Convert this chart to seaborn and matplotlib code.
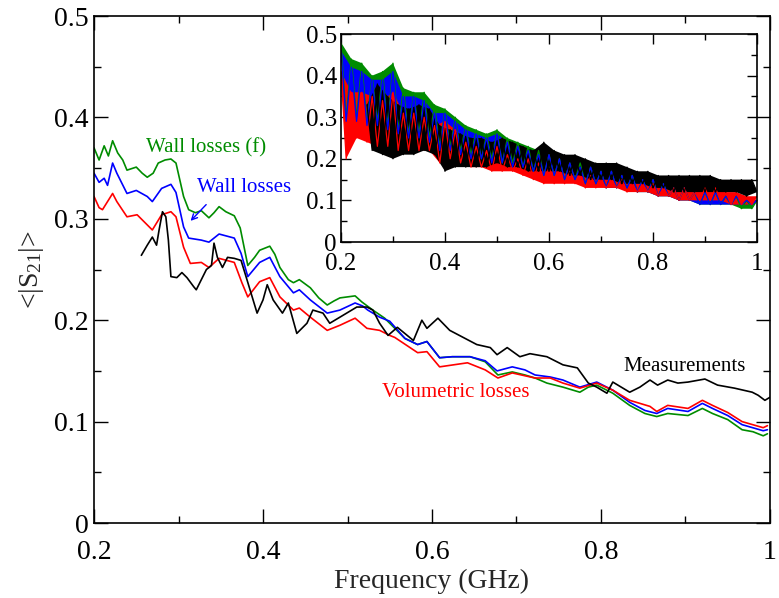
import numpy as np
import pandas as pd
import matplotlib
matplotlib.use("Agg")
import matplotlib.pyplot as plt
from matplotlib.ticker import MultipleLocator
import seaborn as sns

# ---- main panel: smoothed <|S21|> curves ----
wallf_freq = [0.200, 0.206, 0.212, 0.217, 0.222, 0.228, 0.234, 0.239, 0.250, 0.257, 0.263, 0.270,
              0.276, 0.284, 0.291, 0.297, 0.306, 0.312, 0.320, 0.327, 0.336, 0.342, 0.348, 0.356,
              0.366, 0.373, 0.382, 0.390, 0.396, 0.408, 0.414, 0.420, 0.430, 0.436, 0.443, 0.456,
              0.466, 0.476, 0.484, 0.491, 0.500, 0.509, 0.517, 0.530, 0.544, 0.556, 0.568, 0.583,
              0.594, 0.609, 0.624, 0.645, 0.663, 0.678, 0.695, 0.710, 0.722, 0.736, 0.755, 0.775,
              0.785, 0.795, 0.814, 0.834, 0.852, 0.866, 0.879, 0.903, 0.920, 0.932, 0.950, 0.967,
              0.980, 0.992, 0.997]
wallf_s21 = [0.370, 0.358, 0.372, 0.362, 0.377, 0.365, 0.358, 0.348, 0.351, 0.345, 0.341, 0.345,
             0.355, 0.358, 0.359, 0.355, 0.322, 0.309, 0.306, 0.308, 0.301, 0.306, 0.312, 0.307,
             0.303, 0.291, 0.254, 0.262, 0.269, 0.273, 0.265, 0.252, 0.240, 0.237, 0.240, 0.232,
             0.222, 0.215, 0.219, 0.222, 0.223, 0.224, 0.218, 0.210, 0.202, 0.192, 0.182, 0.176,
             0.179, 0.163, 0.164, 0.164, 0.159, 0.146, 0.149, 0.146, 0.143, 0.138, 0.134, 0.129,
             0.134, 0.136, 0.128, 0.116, 0.108, 0.105, 0.108, 0.106, 0.113, 0.108, 0.102, 0.092,
             0.090, 0.086, 0.088]

wall_freq = [0.200, 0.206, 0.212, 0.216, 0.222, 0.227, 0.239, 0.250, 0.263, 0.269, 0.280, 0.291,
             0.297, 0.306, 0.312, 0.327, 0.336, 0.348, 0.366, 0.374, 0.382, 0.396, 0.408, 0.420,
             0.436, 0.443, 0.456, 0.476, 0.491, 0.509, 0.518, 0.524, 0.538, 0.550, 0.568, 0.583,
             0.594, 0.609, 0.624, 0.645, 0.663, 0.677, 0.695, 0.710, 0.722, 0.740, 0.755, 0.775,
             0.795, 0.814, 0.834, 0.852, 0.866, 0.879, 0.903, 0.920, 0.932, 0.950, 0.967, 0.992,
             0.997]
wall_s21 = [0.345, 0.336, 0.340, 0.333, 0.355, 0.345, 0.325, 0.328, 0.322, 0.317, 0.330, 0.334,
            0.326, 0.292, 0.281, 0.279, 0.277, 0.285, 0.281, 0.266, 0.243, 0.257, 0.262, 0.243,
            0.227, 0.230, 0.220, 0.207, 0.210, 0.217, 0.214, 0.210, 0.203, 0.199, 0.182, 0.176,
            0.179, 0.163, 0.164, 0.164, 0.160, 0.150, 0.154, 0.151, 0.146, 0.144, 0.141, 0.134,
            0.139, 0.131, 0.119, 0.111, 0.108, 0.113, 0.110, 0.118, 0.113, 0.106, 0.097, 0.091,
            0.092]

vol_freq = [0.200, 0.206, 0.210, 0.222, 0.227, 0.239, 0.251, 0.263, 0.269, 0.280, 0.291, 0.297,
            0.306, 0.314, 0.327, 0.336, 0.348, 0.366, 0.375, 0.382, 0.396, 0.408, 0.420, 0.436,
            0.443, 0.456, 0.476, 0.491, 0.509, 0.523, 0.538, 0.550, 0.556, 0.583, 0.594, 0.609,
            0.642, 0.663, 0.678, 0.695, 0.722, 0.740, 0.755, 0.775, 0.795, 0.814, 0.834, 0.858,
            0.866, 0.879, 0.903, 0.920, 0.932, 0.950, 0.967, 0.992, 0.997]
vol_s21 = [0.322, 0.311, 0.309, 0.325, 0.317, 0.302, 0.304, 0.294, 0.289, 0.304, 0.307, 0.302,
           0.272, 0.256, 0.257, 0.252, 0.261, 0.257, 0.237, 0.223, 0.238, 0.242, 0.223, 0.210,
           0.212, 0.203, 0.190, 0.195, 0.202, 0.192, 0.190, 0.185, 0.183, 0.168, 0.169, 0.154,
           0.158, 0.151, 0.143, 0.148, 0.143, 0.143, 0.138, 0.133, 0.138, 0.131, 0.121, 0.115,
           0.110, 0.116, 0.113, 0.121, 0.116, 0.109, 0.100, 0.094, 0.096]

meas_freq = [0.256, 0.263, 0.269, 0.274, 0.277, 0.281, 0.285, 0.288, 0.291, 0.298, 0.304, 0.310,
             0.318, 0.321, 0.327, 0.333, 0.339, 0.342, 0.346, 0.352, 0.358, 0.366, 0.374, 0.381,
             0.393, 0.400, 0.405, 0.412, 0.423, 0.430, 0.440, 0.452, 0.459, 0.471, 0.479, 0.491,
             0.511, 0.523, 0.530, 0.538, 0.548, 0.559, 0.578, 0.588, 0.594, 0.607, 0.621, 0.637,
             0.653, 0.669, 0.677, 0.689, 0.704, 0.716, 0.736, 0.755, 0.772, 0.785, 0.795, 0.807,
             0.814, 0.834, 0.846, 0.858, 0.867, 0.879, 0.891, 0.903, 0.923, 0.938, 0.958, 0.979,
             0.986, 0.994, 1.000]
meas_s21 = [0.264, 0.274, 0.282, 0.274, 0.289, 0.307, 0.302, 0.279, 0.243, 0.242, 0.247, 0.242,
            0.233, 0.230, 0.240, 0.250, 0.254, 0.276, 0.262, 0.252, 0.262, 0.261, 0.259, 0.240,
            0.207, 0.220, 0.235, 0.220, 0.207, 0.217, 0.187, 0.197, 0.210, 0.207, 0.197, 0.203,
            0.213, 0.213, 0.210, 0.197, 0.185, 0.193, 0.180, 0.200, 0.192, 0.202, 0.190, 0.183,
            0.176, 0.173, 0.166, 0.173, 0.164, 0.167, 0.164, 0.156, 0.153, 0.138, 0.134, 0.128,
            0.139, 0.129, 0.134, 0.141, 0.136, 0.141, 0.138, 0.139, 0.142, 0.136, 0.133, 0.129,
            0.126, 0.121, 0.124]

# ---- inset: raw spectra, read as peak / trough values of the noise ----
sim_peak_freq = np.round(np.arange(0.20, 1.0001, 0.02), 2)     # 41 points
sim_trough_freq = np.round(np.arange(0.21, 0.9901, 0.02), 2)   # 40 points
meas_peak_freq = np.round(np.arange(0.25, 0.9901, 0.02), 2)    # 38 points
meas_trough_freq = np.round(np.arange(0.26, 1.0001, 0.02), 2)  # 38 points

wallf_peak = [0.48, 0.44, 0.43, 0.40, 0.41, 0.43, 0.37, 0.36, 0.36, 0.33,
              0.32, 0.30, 0.28, 0.27, 0.26, 0.27, 0.25, 0.24, 0.23, 0.22,
              0.21, 0.20, 0.19, 0.19, 0.18, 0.17, 0.17, 0.16, 0.16, 0.15,
              0.15, 0.14, 0.13, 0.13, 0.12, 0.12, 0.12, 0.11, 0.11, 0.10, 0.10]
wallf_trough = [0.30, 0.30, 0.29, 0.29, 0.28, 0.27, 0.26, 0.26, 0.25, 0.23,
                0.23, 0.22, 0.21, 0.20, 0.20, 0.19, 0.19, 0.18, 0.17, 0.16,
                0.16, 0.15, 0.15, 0.14, 0.14, 0.13, 0.13, 0.13, 0.12, 0.12,
                0.11, 0.11, 0.10, 0.10, 0.09, 0.09, 0.09, 0.09, 0.08, 0.08]
wall_peak = [0.46, 0.42, 0.41, 0.39, 0.39, 0.41, 0.35, 0.35, 0.34, 0.31,
             0.31, 0.29, 0.27, 0.26, 0.25, 0.26, 0.24, 0.23, 0.22, 0.21,
             0.21, 0.20, 0.19, 0.18, 0.18, 0.17, 0.17, 0.16, 0.16, 0.15,
             0.15, 0.14, 0.13, 0.13, 0.12, 0.12, 0.12, 0.11, 0.11, 0.10, 0.10]
wall_trough = [0.29, 0.29, 0.28, 0.28, 0.27, 0.26, 0.25, 0.25, 0.24, 0.22,
               0.22, 0.21, 0.20, 0.20, 0.19, 0.19, 0.18, 0.18, 0.17, 0.16,
               0.16, 0.15, 0.15, 0.14, 0.14, 0.13, 0.13, 0.13, 0.12, 0.12,
               0.11, 0.11, 0.10, 0.10, 0.09, 0.09, 0.09, 0.09, 0.09, 0.09]
vol_peak = [0.41, 0.36, 0.36, 0.35, 0.34, 0.36, 0.31, 0.31, 0.30, 0.28,
            0.29, 0.27, 0.24, 0.23, 0.22, 0.23, 0.21, 0.20, 0.20, 0.19,
            0.18, 0.17, 0.17, 0.16, 0.16, 0.15, 0.15, 0.15, 0.14, 0.14,
            0.14, 0.13, 0.13, 0.13, 0.12, 0.13, 0.13, 0.12, 0.12, 0.11, 0.11]
vol_trough = [0.20, 0.25, 0.24, 0.23, 0.23, 0.22, 0.22, 0.22, 0.22, 0.19,
              0.20, 0.19, 0.18, 0.18, 0.17, 0.17, 0.17, 0.16, 0.15, 0.14,
              0.14, 0.14, 0.14, 0.13, 0.13, 0.13, 0.13, 0.12, 0.12, 0.12,
              0.11, 0.11, 0.10, 0.10, 0.10, 0.10, 0.10, 0.09, 0.09, 0.09]
meas_peak = [0.33, 0.38, 0.35, 0.33, 0.32, 0.33, 0.32, 0.28, 0.27, 0.26,
             0.25, 0.25, 0.24, 0.25, 0.24, 0.23, 0.22, 0.24, 0.22, 0.21,
             0.21, 0.20, 0.19, 0.19, 0.19, 0.18, 0.17, 0.17, 0.16, 0.16,
             0.16, 0.16, 0.16, 0.16, 0.15, 0.15, 0.15, 0.15]
meas_trough = [0.22, 0.21, 0.20, 0.21, 0.21, 0.22, 0.21, 0.17, 0.18, 0.18,
               0.18, 0.18, 0.19, 0.18, 0.18, 0.17, 0.17, 0.17, 0.17, 0.16,
               0.16, 0.15, 0.15, 0.15, 0.14, 0.14, 0.14, 0.13, 0.13, 0.12,
               0.12, 0.12, 0.12, 0.12, 0.12, 0.12, 0.11, 0.12]

GREEN, BLUE, RED, BLACK = "#008c00", "#0000ff", "#ff0000", "#000000"

sns.set_style("ticks")
plt.rcParams["font.family"] = ["Liberation Serif", "DejaVu Serif"]
plt.rcParams["mathtext.fontset"] = "custom"
plt.rcParams["mathtext.rm"] = "Liberation Serif"
plt.rcParams["mathtext.it"] = "Liberation Serif:italic"

fig = plt.figure(figsize=(7.79, 5.98), dpi=100)
ax = fig.add_axes([0.1207, 0.1254, 0.8677, 0.8478])

for fr, s, c in [(wallf_freq, wallf_s21, GREEN), (wall_freq, wall_s21, BLUE),
                 (vol_freq, vol_s21, RED), (meas_freq, meas_s21, BLACK)]:
    sns.lineplot(x=fr, y=s, color=c, lw=1.2, estimator=None, sort=False, ax=ax)


def style_axes(a, size, major_len, minor_len, xpad, ypad):
    a.set_xlim(0.2, 1.0)
    a.set_ylim(0, 0.5)
    a.xaxis.set_major_locator(MultipleLocator(0.2))
    a.xaxis.set_minor_locator(MultipleLocator(0.1))
    a.yaxis.set_major_locator(MultipleLocator(0.1))
    a.yaxis.set_minor_locator(MultipleLocator(0.05))
    a.set_xticklabels([f"{v:g}" for v in a.get_xticks()])
    a.set_yticklabels([f"{v:g}" for v in a.get_yticks()])
    a.tick_params(which="both", direction="in", top=True, right=True, width=1.0,
                  labelsize=size, color="black", labelcolor="black")
    a.tick_params(which="major", length=major_len)
    a.tick_params(which="minor", length=minor_len)
    a.tick_params(axis="x", which="both", pad=xpad)
    a.tick_params(axis="y", which="both", pad=ypad)
    for sp in a.spines.values():
        sp.set_visible(True)
        sp.set_color("black")
        sp.set_linewidth(1.2)


style_axes(ax, 20, 10, 5, 12, 4)
ax.set_xlabel("Frequency (GHz)", fontsize=20, labelpad=3)
ax.set_ylabel(r"<|S$_{21}$|>", fontsize=20, labelpad=6)

ax.text(0.262, 0.370, "Wall losses (f)", color=GREEN, fontsize=15, va="center")
ax.text(0.322, 0.331, "Wall losses", color=BLUE, fontsize=15, va="center")
ax.annotate("", xy=(0.312, 0.296), xytext=(0.335, 0.316),
            arrowprops=dict(arrowstyle="->", color=BLUE, lw=1.0))
ax.text(0.541, 0.129, "Volumetric losses", color=RED, fontsize=15, va="center")
ax.text(0.827, 0.154, "Measurements", color=BLACK, fontsize=15, va="center")

# inset: noise band = polygon through peaks and troughs, plus the zigzag itself
axin = fig.add_axes([0.4377, 0.5953, 0.5341, 0.3478])
axin.set_facecolor("white")
inset_series = [
    (sim_peak_freq, wallf_peak, sim_trough_freq, wallf_trough, GREEN),
    (sim_peak_freq, wall_peak, sim_trough_freq, wall_trough, BLUE),
    (sim_peak_freq, vol_peak, sim_trough_freq, vol_trough, RED),
    (meas_peak_freq, meas_peak, meas_trough_freq, meas_trough, BLACK),
]
for pf, pk, tf, tr, c in inset_series:
    axin.fill(np.concatenate([pf, tf[::-1]]), np.concatenate([pk, tr[::-1]]),
              color=c, lw=0)
    zig = pd.DataFrame({"freq": np.concatenate([pf, tf]),
                        "s21": np.concatenate([pk, tr])}).sort_values("freq")
    sns.lineplot(data=zig, x="freq", y="s21", color=c, lw=0.9,
                 estimator=None, sort=False, ax=axin)
style_axes(axin, 18, 7, 4, 8, 3)
axin.set_xlabel("")
axin.set_ylabel("")

fig.savefig("out.png", dpi=100)
